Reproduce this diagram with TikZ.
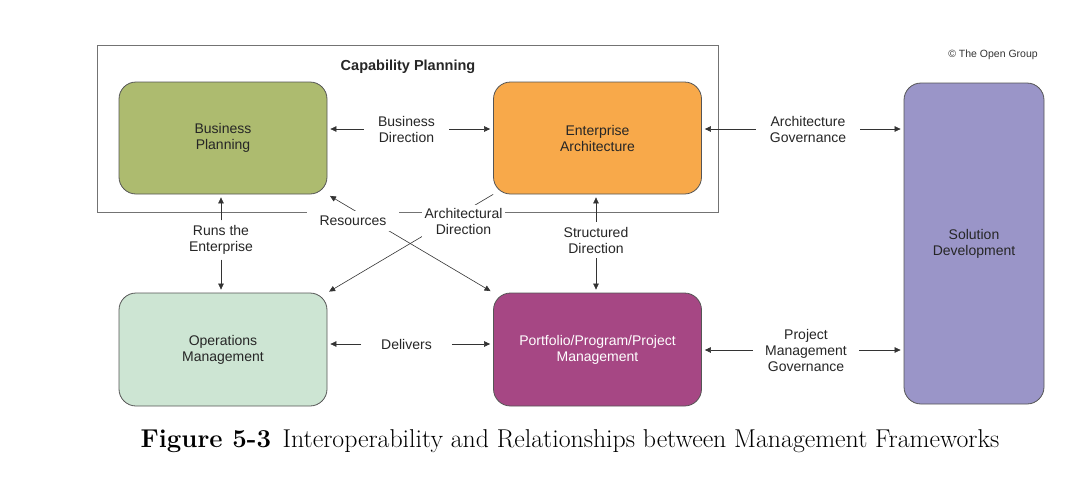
\documentclass[tikz,border=0pt]{standalone}
\usepackage{fontspec}
\setsansfont{Liberation Sans}
\usetikzlibrary{arrows.meta}
\definecolor{bpgreen}{HTML}{ADBB6F}
\definecolor{eaorange}{HTML}{F8A94A}
\definecolor{omgreen}{HTML}{CDE5D3}
\definecolor{ppmpurple}{HTML}{A64784}
\definecolor{sdpurple}{HTML}{9A95C8}
\definecolor{edgegray}{HTML}{555555}
\begin{document}
\begin{tikzpicture}[x=1pt,y=-1pt,
  box/.style={draw=edgegray, line width=0.8pt, rounded corners=17pt,
    minimum width=208pt, minimum height=112pt, align=center,
    font=\sffamily\fontsize{14}{16}\selectfont, text=black!85},
  lbl/.style={fill=white, align=center, inner xsep=14pt, inner ysep=5pt,
    font=\sffamily\fontsize{14}{16}\selectfont, text=black!85},
  arr/.style={-{Triangle[length=6pt,width=5.5pt]}, line width=0.6pt, black!80},
  dblarr/.style={{Triangle[length=6pt,width=5.5pt]}-{Triangle[length=6pt,width=5.5pt]}, line width=0.6pt, black!80}
]
\useasboundingbox (0,0) rectangle (1080,483);
% frame
\draw[black!55, line width=0.7pt] (97,45) rectangle (718,212);
\node[font=\sffamily\bfseries\fontsize{14.5}{17}\selectfont, text=black!85] (cp) at (408,67) {Capability Planning};
\node[font=\sffamily\fontsize{10.5}{12}\selectfont, text=black!80] (copy) at (993,55) {© The Open Group};
% boxes
\node[box, fill=bpgreen] (bp) at (223,138) {Business\\Planning};
\node[box, fill=eaorange] (ea) at (597.5,138) {Enterprise\\Architecture};
\node[box, fill=omgreen, minimum height=113pt] (om) at (223,349.5) {Operations\\Management};
\node[box, fill=ppmpurple, minimum height=113pt, text=white] (ppm) at (597.5,349.5) {Portfolio/Program/Project\\Management};
\node[box, fill=sdpurple, minimum width=140pt, minimum height=321pt] (sd) at (974,243.5) {Solution\\Development};
% diagonals
\draw[dblarr, shorten <=3pt, shorten >=3pt] (bp.south east) -- (ppm.north west);
\draw[arr, shorten >=2pt] (ea.south west) -- (om.north east);
% labels
\node[lbl] (bd) at (406.5,129) {Business\\Direction};
\node[lbl] (ag) at (808,129) {Architecture\\Governance};
\node[lbl, inner ysep=5pt] (rte) at (221,240) {Runs the\\Enterprise};
\node[lbl, inner ysep=5pt] (sdir) at (596,240) {Structured\\Direction};
\node[lbl, inner xsep=20pt] (del) at (406.5,344) {Delivers};
\node[lbl, inner xsep=12pt] (pmg) at (806,350) {Project\\Management\\Governance};
\node[lbl, inner xsep=13pt, inner ysep=5pt] (res) at (353,221) {Resources};
\node[lbl, inner xsep=3pt, inner ysep=3pt] (ad) at (463.5,221) {Architectural\\Direction};
% arrows
\draw[arr, shorten >=3pt] (bd.west) -- (bd.west -| bp.east);
\draw[arr, shorten >=3pt] (bd.east) -- (bd.east -| ea.west);
\draw[arr, shorten >=3pt] (ag.west) -- (ag.west -| ea.east);
\draw[arr, shorten >=3pt] (ag.east) -- (ag.east -| sd.west);
\draw[arr, shorten >=3pt] (rte.north) -- (rte.north |- bp.south);
\draw[arr, shorten >=3pt] (rte.south) -- (rte.south |- om.north);
\draw[arr, shorten >=3pt] (sdir.north) -- (sdir.north |- ea.south);
\draw[arr, shorten >=3pt] (sdir.south) -- (sdir.south |- ppm.north);
\draw[arr, shorten >=3pt] (del.west) -- (del.west -| om.east);
\draw[arr, shorten >=3pt] (del.east) -- (del.east -| ppm.west);
\draw[arr, shorten >=3pt] (pmg.west) -- (pmg.west -| ppm.east);
\draw[arr, shorten >=3pt] (pmg.east) -- (pmg.east -| sd.west);
% caption
\node[font=\rmfamily\fontsize{25.8}{30}\selectfont, text=black] (cap) at (570,441) {\textbf{Figure 5-3}\hspace{0.45em}Interoperability and Relationships between Management Frameworks};
\end{tikzpicture}
\end{document}
